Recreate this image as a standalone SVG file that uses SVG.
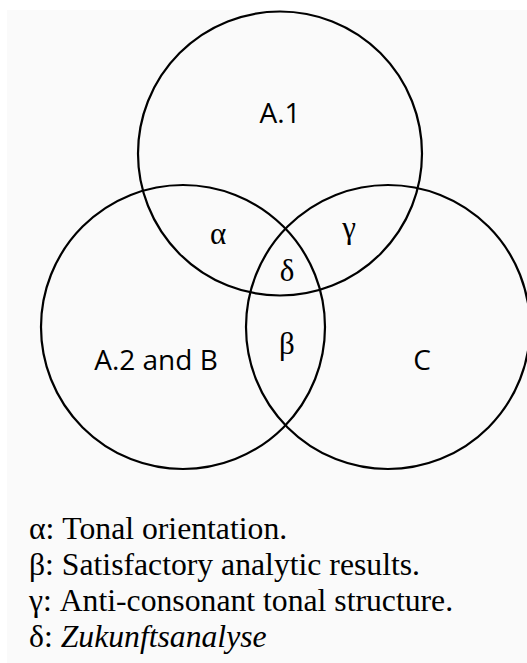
<svg xmlns="http://www.w3.org/2000/svg" width="527" height="663" viewBox="0 0 527 663">
<style>
.c{fill:none;stroke:#000;stroke-width:2.2}
.lab{font-family:"Open Sans","Liberation Sans",sans-serif;font-size:28px;fill:#000;text-anchor:middle}
.gr{font-family:"Liberation Serif","Times New Roman",serif;font-size:31px;fill:#000;text-anchor:middle}
.leg{font-family:"Liberation Serif","Times New Roman",serif;font-size:31.7px;fill:#000}
</style>
<rect x="0" y="0" width="527" height="663" fill="#fff"/>
<rect x="7" y="10" width="520" height="653" fill="#fafafa"/>
<g id="circle-a1">
<circle class="c" cx="280" cy="153.5" r="142"/>
<text class="lab" x="280" y="123">A.1</text>
</g>
<g id="circle-a2b">
<circle class="c" cx="183" cy="327" r="142"/>
<text class="lab" x="156" y="370">A.2 and B</text>
</g>
<g id="circle-c">
<circle class="c" cx="388" cy="327" r="142"/>
<text class="lab" x="422" y="370">C</text>
</g>
<g id="regions">
<text class="gr" x="218" y="244">α</text>
<text class="gr" x="349" y="238">γ</text>
<text class="gr" x="287" y="281">δ</text>
<text class="gr" x="287" y="354">β</text>
</g>
<g id="legend">
<text class="leg" x="29" y="539">α: Tonal orientation.</text>
<text class="leg" x="29" y="575">β: Satisfactory analytic results.</text>
<text class="leg" x="29" y="611">γ: Anti-consonant tonal structure.</text>
<text class="leg" x="29" y="647">δ: <tspan font-style="italic">Zukunftsanalyse</tspan></text>
</g>
</svg>
